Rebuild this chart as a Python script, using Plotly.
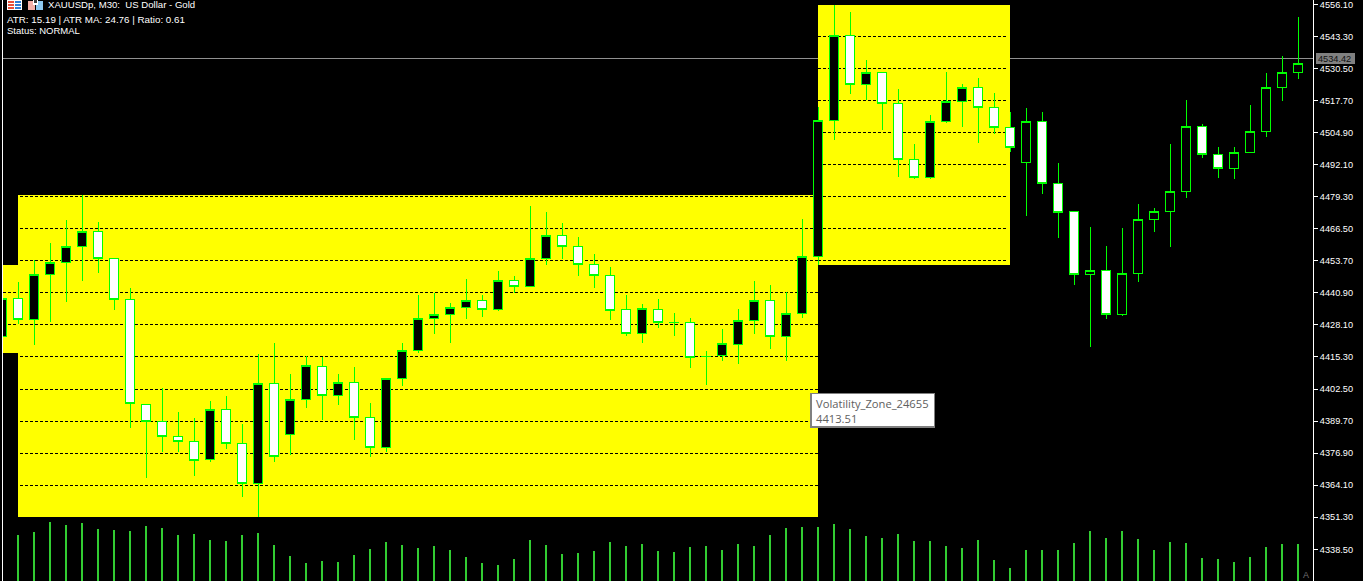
import plotly.graph_objects as go

W, H = 1363, 581
L, R = 3, 1313

opens = [4423.3,4438.8,4430.4,4448.4,4453.2,4459.6,4465.2,4454.8,4438.4,4396.5,
         4389.7,4383.7,4381.7,4374.5,4394.5,4380.9,4364.6,4404.9,4384.5,4398.5,
         4411.3,4400.1,4405.3,4391.3,4379.3,4406.9,4417.7,4430.8,4432.4,4435.2,
         4438.0,4434.4,4446.0,4443.6,4454.8,4463.6,4459.6,4452.4,4448.0,4434.4,
         4424.5,4434.4,4429.2,4429.2,4415.3,4415.7,4420.1,4430.0,4438.0,4423.3,
         4432.8,4455.6,4509.9,4543.8,4523.9,4528.7,4516.3,4494.3,4487.1,4509.5,
         4517.1,4522.7,4514.7,4507.1,4493.1,4509.5,4484.7,4473.2,4448.4,4450.0,
         4432.4,4448.8,4470.0,4473.2,4481.5,4507.5,4496.3,4490.7,4497.1,4505.5,
         4522.7,4528.7]
highs = [4442.0,4445.2,4454.0,4460.8,4470.0,4479.9,4469.2,4454.8,4442.8,4396.5,
         4402.9,4393.3,4390.9,4397.7,4399.7,4388.5,4416.5,4420.9,4408.5,4415.7,
         4415.3,4408.5,4411.3,4396.9,4406.9,4420.9,4440.0,4440.8,4436.8,4446.4,
         4440.0,4449.6,4447.6,4475.6,4473.2,4468.8,4463.2,4456.4,4451.2,4440.0,
         4436.4,4438.4,4432.8,4430.8,4417.7,4426.4,4434.4,4445.6,4444.0,4441.2,
         4470.4,4515.1,4555.8,4553.0,4533.8,4529.1,4522.3,4500.3,4511.9,4529.1,
         4524.3,4526.7,4520.7,4513.1,4514.7,4513.1,4492.7,4473.2,4467.2,4459.6,
         4466.8,4476.4,4474.8,4500.3,4517.9,4508.3,4499.1,4499.1,4515.9,4528.7,
         4535.4,4551.0]
lows = [4422.1,4428.4,4420.1,4429.2,4437.2,4445.6,4448.8,4434.0,4386.9,4367.0,
        4377.3,4377.3,4367.8,4373.3,4378.5,4359.4,4351.4,4373.3,4376.1,4394.9,
        4390.1,4396.1,4382.1,4375.3,4377.3,4403.7,4416.9,4424.5,4420.9,4430.4,
        4431.2,4433.6,4440.8,4443.2,4452.0,4454.4,4447.6,4442.8,4430.0,4423.7,
        4420.9,4426.8,4423.7,4410.9,4404.1,4413.7,4412.5,4424.5,4418.5,4413.7,
        4430.8,4452.0,4501.9,4520.3,4517.9,4505.9,4487.1,4486.3,4486.3,4508.7,
        4507.1,4500.7,4504.3,4497.1,4471.6,4480.3,4462.8,4444.0,4419.3,4430.4,
        4431.6,4445.2,4465.2,4459.2,4478.7,4494.7,4486.7,4486.3,4497.1,4503.1,
        4517.5,4526.3]
closes = [4438.8,4430.4,4448.4,4453.2,4459.6,4465.2,4454.8,4438.4,4396.9,4389.7,
          4383.7,4381.7,4374.1,4394.5,4380.9,4364.6,4404.9,4375.7,4398.5,4411.7,
          4400.1,4405.3,4391.3,4379.3,4406.9,4417.7,4430.8,4432.4,4435.2,4438.0,
          4434.4,4446.0,4443.6,4454.8,4463.6,4459.6,4452.4,4448.0,4434.0,4424.5,
          4434.8,4429.2,4429.2,4414.9,4415.3,4420.5,4430.0,4438.0,4423.3,4432.8,
          4455.6,4509.9,4543.8,4523.9,4528.7,4516.3,4494.3,4487.1,4509.5,4517.1,
          4522.7,4514.7,4507.1,4499.1,4509.5,4484.7,4472.8,4448.4,4450.0,4432.4,
          4448.8,4470.0,4473.2,4481.5,4507.5,4496.3,4490.7,4497.1,4505.5,4522.7,
          4528.7,4532.6]
tick_volume = [400,460,490,590,560,580,520,510,500,550,530,460,470,410,400,460,480,360,250,180,
               200,190,260,320,390,360,330,350,310,240,180,160,220,410,360,270,280,300,390,350,
               370,300,290,340,350,310,370,350,460,530,540,540,570,520,450,430,470,400,400,350,
               330,410,210,130,310,310,310,380,500,430,500,420,310,390,380,230,220,190,240,340,
               370,370]
bar_index = list(range(len(closes)))

price_ticks = [4556.10,4543.30,4530.50,4517.70,4504.90,4492.10,4479.30,4466.50,4453.70,
               4440.90,4428.10,4415.30,4402.50,4389.70,4376.90,4364.10,4351.30,4338.50]
price_labels = [f"{t:.2f}" for t in price_ticks]
bid_price = 4534.42

zone_left_levels = [4440.90, 4428.10]
zone_mid_levels = [4479.30,4466.50,4453.70,4440.90,4428.10,4415.30,4402.50,4389.70,4376.90,4364.10]
zone_right_levels = [4543.30,4530.50,4517.70,4504.90,4492.10,4479.30,4466.50,4453.70]

Y_TOP = 4557.817
Y_BOT = 4325.85
X_PER_PX = 1 / 16


def xpaper(px):
    return (px - L) / (R - L)


def ypaper(py):
    return 1 - py / H


def ypx_price(py):
    return Y_TOP - (Y_TOP - Y_BOT) * py / H


x0 = (L - 2) * X_PER_PX
x1 = (R - 2) * X_PER_PX

fig = go.Figure()

fig.add_trace(go.Bar(
    x=bar_index, y=tick_volume, width=0.125, yaxis="y2",
    marker=dict(color="#32CD32", line=dict(width=0)), hoverinfo="skip"))

fig.add_trace(go.Candlestick(
    x=bar_index, open=opens, high=highs, low=lows, close=closes,
    increasing=dict(line=dict(color="#00FF00", width=1), fillcolor="#000000"),
    decreasing=dict(line=dict(color="#00FF00", width=1), fillcolor="#FFFFFF"),
    whiskerwidth=0, hoverinfo="skip"))

shapes = []


def zone(xa, xb, top, bottom):
    shapes.append(dict(type="rect", layer="below", xref="x", yref="y", x0=xa, x1=xb,
                       y0=top, y1=bottom, fillcolor="#FFFF00", line=dict(width=0)))


def levels(vals, xa, xb):
    for v in vals:
        shapes.append(dict(type="line", layer="below", xref="x", yref="y", x0=xa, x1=xb,
                           y0=v, y1=v, line=dict(color="#000000", width=1, dash="3px,2px")))


zone(x0, 1, ypx_price(265), ypx_price(353))
zone(1, 51, ypx_price(195), ypx_price(517))
zone(51, 63, ypx_price(5), ypx_price(265))
levels(zone_left_levels, x0, 1)
levels(zone_mid_levels, 1.125, 51)
levels(zone_right_levels, 51, 62.8)

shapes.append(dict(type="line", layer="below", xref="paper", yref="y", x0=0, x1=1,
                   y0=bid_price, y1=bid_price, line=dict(color="#909090", width=1)))

shapes.append(dict(type="rect", layer="above", xref="paper", yref="paper",
                   x0=xpaper(1316), x1=xpaper(1355), y0=ypaper(53), y1=ypaper(64),
                   fillcolor="#808080", line=dict(width=0)))

shapes.append(dict(type="rect", layer="above", xref="paper", yref="paper",
                   x0=xpaper(811), x1=xpaper(934.5), y0=ypaper(393.5), y1=ypaper(427),
                   fillcolor="#FFFFFF", line=dict(color="#808080", width=1.5)))


def px_rect(a, b, c, d, color):
    shapes.append(dict(type="rect", layer="above", xref="paper", yref="paper",
                       x0=xpaper(a), x1=xpaper(b), y0=ypaper(c), y1=ypaper(d),
                       fillcolor=color, line=dict(width=0)))


px_rect(7, 22, 0, 9.5, "#FFFFFF")
for r in (1, 4, 7):
    px_rect(8, 14, r, r + 1.5, "#E8503A")
    px_rect(15, 21, r, r + 1.5, "#2F7FD6")
px_rect(28, 35, 1, 9.5, "#F4B0A8")
px_rect(36, 43, 1, 9.5, "#8CC8F0")
px_rect(33, 38, 0, 5, "#FFFFFF")
px_rect(34, 37, 0, 3, "#404040")


def label(px, py, text, color="#FFFFFF", size=9.6, family="Liberation Sans", anchor="left"):
    return dict(xref="paper", yref="paper", x=xpaper(px), y=ypaper(py), text=text,
                showarrow=False, xanchor=anchor, yanchor="middle", align="left",
                font=dict(color=color, size=size, family=family), borderpad=0, borderwidth=0)


annotations = [
    label(48, 5, "XAUUSDp, M30:  US Dollar - Gold"),
    label(7, 19, "ATR: 15.19 | ATR MA: 24.76 | Ratio: 0.61", size=9.8),
    label(7, 30.5, "Status: NORMAL", size=9.5),
    label(1318, 59, "4534.42", color="#101010", size=9.2),
    label(816, 403, "Volatility_Zone_24655", color="#606060", size=11.2, family="Open Sans"),
    label(816, 418, "4413.51", color="#606060", size=11.2, family="Open Sans"),
    label(1303, 575, "A", color="#707070", size=9),
]

fig.update_layout(
    width=W, height=H, margin=dict(l=L, r=W - R, t=0, b=0, pad=0),
    paper_bgcolor="#000000", plot_bgcolor="#000000",
    showlegend=False, boxgap=0.38, boxgroupgap=0, bargap=0, dragmode=False,
    shapes=shapes, annotations=annotations,
    xaxis=dict(range=[x0, x1], visible=False, rangeslider=dict(visible=False), fixedrange=True),
    yaxis=dict(range=[Y_BOT, Y_TOP], side="right", tickmode="array", tickvals=price_ticks,
               ticktext=price_labels, ticks="outside", ticklen=4, tickwidth=1, tickcolor="#FFFFFF",
               showline=True, linecolor="#FFFFFF", linewidth=1, mirror=True, showgrid=False,
               zeroline=False, fixedrange=True, ticklabeloverflow="allow",
               tickfont=dict(color="#FFFFFF", size=9.2, family="Liberation Sans")),
    yaxis2=dict(range=[0, 5810], overlaying="y", visible=False, fixedrange=True),
)

post = """
document.body.style.margin='0';
document.body.style.background='#000';
document.documentElement.style.overflow='hidden';
document.querySelectorAll('.shapelayer path, .boxes path').forEach(function(p){p.style.shapeRendering='crispEdges';});
"""
fig.write_html("out.html", config={"displayModeBar": False, "responsive": False}, post_script=post)
